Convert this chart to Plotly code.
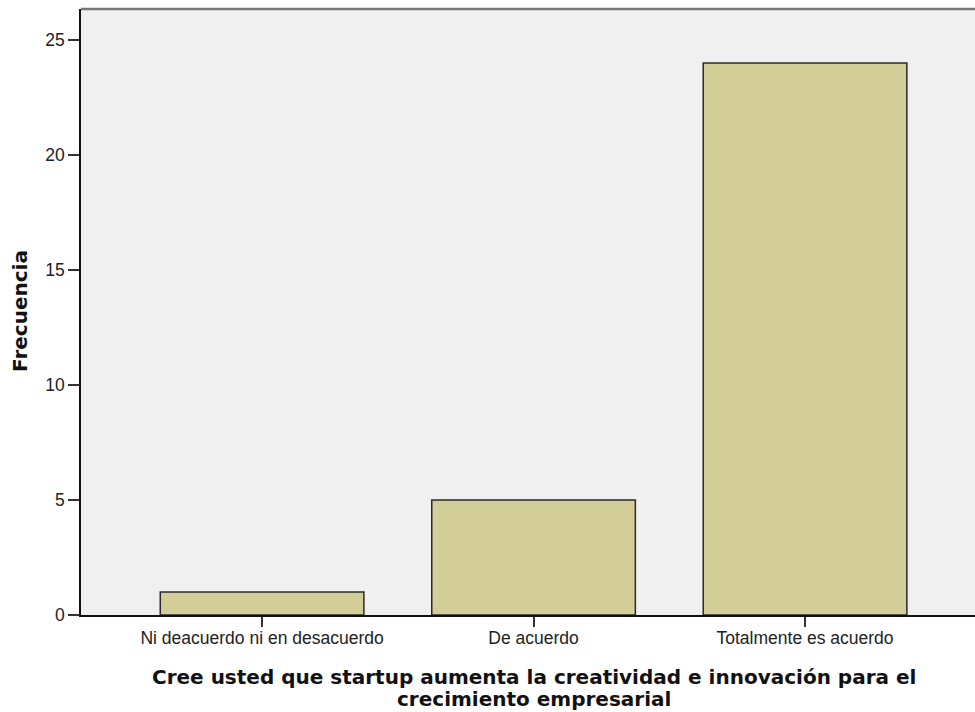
import plotly.graph_objects as go

categories = ["Ni deacuerdo ni en desacuerdo", "De acuerdo", "Totalmente es acuerdo"]
frecuencia = [1, 5, 24]
y_ticks = [0, 5, 10, 15, 20, 25]
x_title_lines = ["Cree usted que startup aumenta la creatividad e innovación para el",
                 "crecimiento empresarial"]
y_title = "Frecuencia"

# screen layout (body margin removed via post_script)
W, H = 975, 712
PL, PT, PB = 81, 9, 615          # plot left/top/bottom on screen
L, T = PL, PT
plot_h = PB - PT
B = H - T - plot_h
R = 0
plot_w = W - L - R

fig = go.Figure(go.Bar(
    x=categories, y=frecuencia, width=0.75,
    marker=dict(color="#d3ce97", line=dict(color="#2a2a2a", width=1.5)),
    hoverinfo="x+y",
))

tick_font = dict(size=17.5, family="Liberation Sans, Arial, sans-serif", color="#222")
fig.update_layout(
    width=W, height=H,
    margin=dict(l=L, r=R, t=T, b=B, pad=0),
    paper_bgcolor="white", plot_bgcolor="#f0f0f0",
    showlegend=False,
    font=dict(family="Liberation Sans, Arial, sans-serif", color="#222"),
)
fig.update_xaxes(
    type="category", range=[-0.667, 2.626],
    showline=True, linecolor="#111", linewidth=1.5,
    ticks="outside", ticklen=10, tickcolor="#333", tickwidth=1.5,
    tickfont=tick_font, ticklabelstandoff=-4,
    showgrid=False, zeroline=False,
)
fig.update_yaxes(
    range=[0, plot_h / 23.0], tickvals=y_ticks,
    showline=True, linecolor="#111", linewidth=1.5,
    ticks="outside", ticklen=11, tickcolor="#333", tickwidth=1.5,
    tickfont=tick_font,
    showgrid=False, zeroline=False,
)

# top border
fig.add_shape(type="line", xref="paper", yref="paper", x0=0, x1=1, y0=1, y1=1,
              line=dict(color="#777", width=2.5))


def px_x(sx):
    return (sx - PL) / plot_w


def px_y(sy):
    return (PB - sy) / plot_h


title_font = dict(family="DejaVu Sans, Verdana, sans-serif", size=20, color="#111")
fig.add_annotation(
    text="<b>" + x_title_lines[0] + "</b>", xref="paper", yref="paper",
    x=px_x(534), y=px_y(677),
    xanchor="center", yanchor="middle", showarrow=False, font=title_font,
)
fig.add_annotation(
    text="<b>" + x_title_lines[1] + "</b>", xref="paper", yref="paper",
    x=px_x(534), y=px_y(699),
    xanchor="center", yanchor="middle", showarrow=False, font=title_font,
)
fig.add_annotation(
    text="<b>" + y_title + "</b>", xref="paper", yref="paper",
    x=px_x(20), y=px_y(311),
    xanchor="center", yanchor="middle", textangle=-90, showarrow=False, font=title_font,
)

fig.write_html(
    "out.html",
    config={"displayModeBar": False},
    post_script="document.body.style.margin='0';document.body.style.overflow='hidden';",
)
